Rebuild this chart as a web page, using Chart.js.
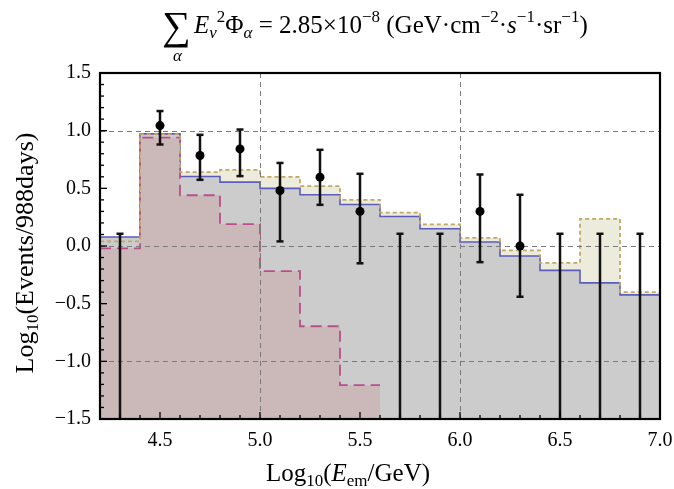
<!DOCTYPE html>
<html lang="en">
<head>
<meta charset="UTF-8">
<title>Events vs Log10 E_em</title>
<script src="https://cdn.jsdelivr.net/npm/chart.js@4.4.0/dist/chart.umd.min.js"></script>
<style>
  html, body { margin: 0; padding: 0; background: #fff; }
  #wrap { width: 674px; height: 489px; position: relative; }
</style>
</head>
<body>
<div id="wrap"><canvas id="chart"></canvas></div>
<script>
// bin edges of the histograms (Log10 E_em / GeV)
var binEdges = [4.2, 4.4, 4.6, 4.8, 5.0, 5.2, 5.4, 5.6, 5.8, 6.0, 6.2, 6.4, 6.6, 6.8, 7.0];

// Log10(events) per bin
var totalModel = [0.078, 0.972, 0.603, 0.554, 0.50, 0.444, 0.36, 0.256, 0.15, 0.035, -0.087, -0.211, -0.32, -0.424];
var altModel   = [0.04, 0.97, 0.64, 0.66, 0.60, 0.52, 0.40, 0.29, 0.187, 0.07, -0.038, -0.147, 0.236, -0.40];
var lowModel   = [-0.02, 0.94, 0.44, 0.19, -0.217, -0.696, -1.207];

// observed events with error bars
var dataX  = [4.5, 4.7, 4.9, 5.1, 5.3, 5.5, 6.1, 6.3];
var dataY  = [1.044, 0.785, 0.842, 0.481, 0.597, 0.30, 0.30, 0.0];
var dataHi = [1.17, 0.964, 1.01, 0.72, 0.834, 0.626, 0.62, 0.444];
var dataLo = [0.88, 0.574, 0.606, 0.04, 0.357, -0.15, -0.14, -0.44];

// empty bins: only an upper limit
var limitX  = [4.3, 5.7, 5.9, 6.5, 6.7, 6.9];
var limitHi = [0.106, 0.106, 0.106, 0.106, 0.106, 0.106];

var xTicks = [4.5, 5.0, 5.5, 6.0, 6.5, 7.0];
var yTicks = [-1.5, -1.0, -0.5, 0.0, 0.5, 1.0, 1.5];
var xGrid = [5.0, 6.0];
var yGrid = [-1.0, 0.0, 1.0];

var SERIF = '"Liberation Serif", "Times New Roman", serif';

function steps(vals) {
  var pts = vals.map(function (v, i) { return {x: binEdges[i], y: v}; });
  pts.push({x: binEdges[vals.length], y: vals[vals.length - 1]});
  return pts;
}

function runs(ctx, x, y, list) {
  list.forEach(function (r) {
    ctx.font = r.f;
    ctx.fillText(r.t, x, y + (r.dy || 0));
    x += ctx.measureText(r.t).width + (r.dx || 0);
  });
  return x;
}
function runsWidth(ctx, list) {
  var w = 0;
  list.forEach(function (r) { ctx.font = r.f; w += ctx.measureText(r.t).width + (r.dx || 0); });
  return w;
}

var decor = {
  id: 'decor',
  beforeDatasetDraw: function (chart, args) {
    if (args.index !== 4) return;
    var ctx = chart.ctx, a = chart.chartArea;
    var xs = chart.scales.x, ys = chart.scales.y;
    ctx.save();
    ctx.beginPath();
    ctx.rect(a.left, a.top, a.right - a.left, a.bottom - a.top);
    ctx.clip();
    // dashed grid
    ctx.strokeStyle = '#7a7a7a';
    ctx.lineWidth = 1;
    ctx.setLineDash([5, 4]);
    xGrid.forEach(function (v) {
      var px = Math.round(xs.getPixelForValue(v)) + 0.5;
      ctx.beginPath(); ctx.moveTo(px, a.top); ctx.lineTo(px, a.bottom); ctx.stroke();
    });
    yGrid.forEach(function (v) {
      var py = Math.round(ys.getPixelForValue(v)) + 0.5;
      ctx.beginPath(); ctx.moveTo(a.left, py); ctx.lineTo(a.right, py); ctx.stroke();
    });
    ctx.setLineDash([]);
    // error bars
    ctx.strokeStyle = '#111';
    ctx.lineWidth = 2.5;
    function bar(x, lo, hi, capLo) {
      var px = xs.getPixelForValue(x);
      var pLo = lo === null ? a.bottom + 2 : ys.getPixelForValue(lo);
      var pHi = ys.getPixelForValue(hi);
      ctx.beginPath(); ctx.moveTo(px, pLo); ctx.lineTo(px, pHi); ctx.stroke();
      ctx.beginPath(); ctx.moveTo(px - 3.5, pHi); ctx.lineTo(px + 3.5, pHi); ctx.stroke();
      if (capLo) { ctx.beginPath(); ctx.moveTo(px - 3.5, pLo); ctx.lineTo(px + 3.5, pLo); ctx.stroke(); }
    }
    dataX.forEach(function (x, i) { bar(x, dataLo[i], dataHi[i], true); });
    limitX.forEach(function (x, i) { bar(x, null, limitHi[i], false); });
    ctx.restore();
  },
  afterDraw: function (chart) {
    var ctx = chart.ctx, a = chart.chartArea;
    var xs = chart.scales.x, ys = chart.scales.y;
    ctx.save();
    ctx.strokeStyle = '#000';
    // inward ticks, left and bottom
    ctx.lineWidth = 1.3;
    var i, v, p, len;
    for (i = -15; i <= 15; i++) {
      v = i / 10; p = ys.getPixelForValue(v);
      len = (i % 5 === 0) ? 7 : 4;
      ctx.beginPath(); ctx.moveTo(a.left, p); ctx.lineTo(a.left + len, p); ctx.stroke();
    }
    for (i = 42; i <= 70; i++) {
      v = i / 10; p = xs.getPixelForValue(v);
      len = (i % 5 === 0) ? 7 : 4;
      ctx.beginPath(); ctx.moveTo(p, a.bottom); ctx.lineTo(p, a.bottom - len); ctx.stroke();
    }
    // frame
    ctx.lineWidth = 2.2;
    ctx.strokeRect(a.left, a.top, a.right - a.left, a.bottom - a.top);

    // titles
    ctx.fillStyle = '#000';
    ctx.textBaseline = 'alphabetic';
    ctx.textAlign = 'left';
    var big = '25px ' + SERIF, bigI = 'italic 25px ' + SERIF;
    var sm = '17px ' + SERIF, smI = 'italic 17px ' + SERIF;
    ctx.font = '40px ' + SERIF;
    ctx.fillText('\u2211', 162, 39);
    ctx.font = smI;
    ctx.fillText('\u03b1', 173, 61);
    runs(ctx, 194, 33, [
      {t: 'E', f: bigI},
      {t: '\u03bd', f: smI, dy: 5},
      {t: '2', f: sm, dy: -11},
      {t: '\u03a6', f: big},
      {t: '\u03b1', f: smI, dy: 5},
      {t: ' = 2.85\u00d710', f: big},
      {t: '\u22128', f: sm, dy: -11},
      {t: ' (GeV\u00b7cm', f: big},
      {t: '\u22122', f: sm, dy: -11},
      {t: '\u00b7', f: big},
      {t: 's', f: bigI},
      {t: '\u22121', f: sm, dy: -11},
      {t: '\u00b7sr', f: big},
      {t: '\u22121', f: sm, dy: -11},
      {t: ')', f: big}
    ]);

    // x axis title
    var xt = [
      {t: 'Log', f: '25px ' + SERIF},
      {t: '10', f: '17px ' + SERIF, dy: 5},
      {t: '(', f: '25px ' + SERIF},
      {t: 'E', f: 'italic 25px ' + SERIF},
      {t: 'em', f: '17px ' + SERIF, dy: 5},
      {t: '/GeV)', f: '25px ' + SERIF}
    ];
    var w = runsWidth(ctx, xt);
    runs(ctx, 348 - w / 2, 481, xt);

    // y axis title
    var yt = [
      {t: 'Log', f: '26px ' + SERIF},
      {t: '10', f: '17px ' + SERIF, dy: 5},
      {t: '(Events/988days)', f: '26px ' + SERIF}
    ];
    w = runsWidth(ctx, yt);
    ctx.translate(33, 253);
    ctx.rotate(-Math.PI / 2);
    runs(ctx, -w / 2, 0, yt);
    ctx.restore();
  }
};

var lineBase = {
  type: 'line', stepped: true, pointRadius: 0, pointHoverRadius: 0, tension: 0
};

new Chart(document.getElementById('chart'), {
  type: 'line',
  data: {
    datasets: [
      Object.assign({}, lineBase, {
        label: 'alt fill', data: steps(altModel), order: 10,
        fill: 'start', backgroundColor: '#ecebdc', borderWidth: 0, borderColor: 'rgba(0,0,0,0)'
      }),
      Object.assign({}, lineBase, {
        label: 'total', data: steps(totalModel), order: 9,
        fill: 'start', backgroundColor: '#cccccc', borderColor: '#5c5cba', borderWidth: 1.6
      }),
      Object.assign({}, lineBase, {
        label: 'low', data: steps(lowModel), order: 8,
        fill: 'start', backgroundColor: '#cbb8b8', borderColor: '#b84f8a', borderWidth: 1.8,
        borderDash: [11, 6]
      }),
      Object.assign({}, lineBase, {
        label: 'alt', data: steps(altModel), order: 7,
        fill: false, borderColor: '#bfa868', borderWidth: 1.8, borderDash: [4, 3]
      }),
      {
        type: 'line', label: 'data', order: 1, showLine: false,
        data: dataX.map(function (x, i) { return {x: x, y: dataY[i]}; }),
        pointRadius: 4.5, pointBackgroundColor: '#000', pointBorderColor: '#000', pointBorderWidth: 0
      }
    ]
  },
  options: {
    responsive: true,
    maintainAspectRatio: false,
    animation: false,
    layout: { padding: { top: 73, right: 14, left: 0, bottom: 0 } },
    plugins: { legend: { display: false }, tooltip: { enabled: false }, title: { display: false } },
    scales: {
      x: {
        type: 'linear', min: 4.2, max: 7.0,
        grid: { display: false, drawTicks: false },
        border: { display: false },
        afterBuildTicks: function (s) { s.ticks = xTicks.map(function (v) { return {value: v}; }); },
        afterFit: function (s) { s.height = 70; s.paddingLeft = 0; s.paddingRight = 0; },
        ticks: {
          maxRotation: 0, padding: 10, color: '#000',
          font: { family: SERIF, size: 20 },
          callback: function (v) { return v.toFixed(1); }
        }
      },
      y: {
        type: 'linear', min: -1.5, max: 1.5,
        grid: { display: false, drawTicks: false },
        border: { display: false },
        afterBuildTicks: function (s) { s.ticks = yTicks.map(function (v) { return {value: v}; }); },
        afterFit: function (s) { s.width = 100; s.paddingTop = 0; s.paddingBottom = 0; },
        ticks: {
          padding: 9, color: '#000',
          font: { family: SERIF, size: 20 },
          callback: function (v) { return (v < 0 ? '\u2212' : '') + Math.abs(v).toFixed(1); }
        }
      }
    }
  },
  plugins: [decor]
});
</script>
</body>
</html>
